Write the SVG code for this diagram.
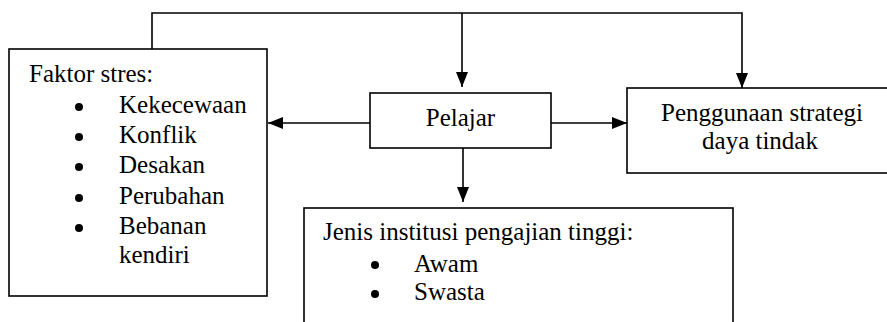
<svg xmlns="http://www.w3.org/2000/svg" width="887" height="322" viewBox="0 0 887 322">
<style>
.box{fill:#fff;stroke:#000;stroke-width:1.6}
.t{font-family:'Liberation Serif','DejaVu Serif','Times New Roman',Times,serif;font-size:25px;fill:#000}
.c{stroke:#000;stroke-width:1.6;fill:none}
.b{fill:#000}
</style>
<defs>
<marker id="ah" markerUnits="userSpaceOnUse" markerWidth="15" markerHeight="12" refX="15" refY="6" orient="auto">
<path d="M0,0 L15,6 L0,12 z" fill="#000"/>
</marker>
</defs>
<rect width="887" height="322" fill="#fff"/>
<g id="connectors">
<path class="c" d="M152,49 V13 H742 V88" marker-end="url(#ah)"/>
<path class="c" d="M462,13 V87" marker-end="url(#ah)"/>
<path class="c" d="M370,123 H268" marker-end="url(#ah)"/>
<path class="c" d="M551,123 H627" marker-end="url(#ah)"/>
<path class="c" d="M463,148 V202" marker-end="url(#ah)"/>
</g>
<g id="faktor">
<rect class="box" x="9" y="49" width="258" height="247"/>
<text class="t" font-family="Liberation Serif, serif" x="29" y="82">Faktor stres:</text>
<circle class="b" cx="79" cy="107" r="4"/>
<text class="t" font-family="Liberation Serif, serif" x="119" y="113">Kekecewaan</text>
<circle class="b" cx="79" cy="137" r="4"/>
<text class="t" font-family="Liberation Serif, serif" x="119" y="143">Konflik</text>
<circle class="b" cx="79" cy="167" r="4"/>
<text class="t" font-family="Liberation Serif, serif" x="119" y="173">Desakan</text>
<circle class="b" cx="79" cy="198" r="4"/>
<text class="t" font-family="Liberation Serif, serif" x="119" y="204">Perubahan</text>
<circle class="b" cx="79" cy="228" r="4"/>
<text class="t" font-family="Liberation Serif, serif" x="119" y="234">Bebanan</text>
<text class="t" font-family="Liberation Serif, serif" x="119" y="263">kendiri</text>
</g>
<g id="pelajar">
<rect class="box" x="370" y="93" width="181" height="55"/>
<text class="t" font-family="Liberation Serif, serif" x="460.5" y="126" text-anchor="middle">Pelajar</text>
</g>
<g id="strategi">
<rect class="box" x="627" y="88" width="270" height="85"/>
<text class="t" font-family="Liberation Serif, serif" x="762" y="121" text-anchor="middle">Penggunaan strategi</text>
<text class="t" font-family="Liberation Serif, serif" x="760" y="149" text-anchor="middle">daya tindak</text>
</g>
<g id="institusi">
<rect class="box" x="304" y="208" width="429" height="130"/>
<text class="t" font-family="Liberation Serif, serif" x="323" y="240">Jenis institusi pengajian tinggi:</text>
<circle class="b" cx="375" cy="265" r="4"/>
<text class="t" font-family="Liberation Serif, serif" x="414" y="272">Awam</text>
<circle class="b" cx="375" cy="294" r="4"/>
<text class="t" font-family="Liberation Serif, serif" x="414" y="300">Swasta</text>
</g>
</svg>
